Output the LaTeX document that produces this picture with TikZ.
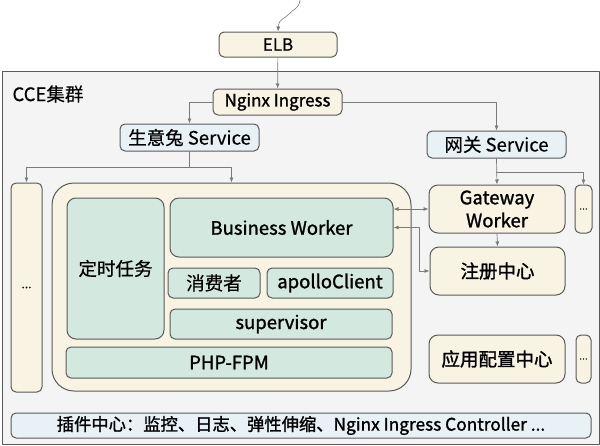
\documentclass[tikz,border=0pt]{standalone}
\usepackage{fontspec}
\setmainfont{Noto Sans CJK SC}[FakeBold=0.3]
\newfontfamily\medfont{Noto Sans CJK SC}[FakeBold=1.3]
\usetikzlibrary{arrows.meta}

\definecolor{cceBack}{HTML}{F4F4F4}
\definecolor{cceLine}{HTML}{5A5A5A}
\definecolor{cceLink}{HTML}{7A7A7A}
\definecolor{cceCream}{HTML}{F8F3E3}
\definecolor{cceGreen}{HTML}{D3E8DE}
\definecolor{cceBlue}{HTML}{E8F1F5}

\tikzset{
  ccebox/.style={draw=cceLine, line width=1pt, rounded corners=5pt, inner sep=0pt,
    align=center, font=\fontsize{18.5}{23}\selectfont},
  creambox/.style={ccebox, fill=cceCream},
  greenbox/.style={ccebox, fill=cceGreen},
  bluebox/.style={ccebox, fill=cceBlue},
  medtext/.style={font=\fontsize{18.5}{23}\selectfont\medfont},
  link/.style={draw=cceLink, line width=0.7pt, -{Latex[length=5pt,width=4pt]}},
  duallink/.style={link, {Latex[length=5pt,width=4pt]}-{Latex[length=5pt,width=4pt]}},
}

\begin{document}
\begin{tikzpicture}
% one unit = one pixel of the 600x445 layout, y grows downwards
\def\pxsz{1pt}
\begin{scope}[x=\pxsz, y=-\pxsz, line cap=round, line join=round]
  \useasboundingbox (0,0) rectangle (600,445);
  % Cluster frame
  \filldraw[fill=cceBack, draw=cceLine, line width=1pt] (2,71) rectangle (599,444);
  \node[anchor=west, font=\fontsize{18.5}{22}\selectfont] (ccetitle) at (9,94) {CCE集群};

  % Entry
  \node[creambox, minimum width=118pt, minimum height=25pt, font=\fontsize{17}{20}\selectfont] (elb) at (278,44.5) {ELB};
  \node[creambox, minimum width=129pt, minimum height=26pt, font=\fontsize{17}{20}\selectfont\medfont] (nginx) at (277.5,102) {Nginx Ingress};
  \coordinate (client) at (300,0);

  % Services
  \node[bluebox, minimum width=139pt, minimum height=27pt] (svcbiz) at (189.5,137.5) {生意兔 Service};
  \node[bluebox, minimum width=139pt, minimum height=27pt] (svcgw) at (496.5,144.5) {网关 Service};

  % Business pods
  \node[creambox, minimum width=31pt, minimum height=209pt, font=\fontsize{12}{14}\selectfont] (leftmore) at (26.5,287.5) {...};
  \node[creambox, rounded corners=22pt, minimum width=359pt, minimum height=208pt] (pod) at (231.5,287) {};
  \node[greenbox, rounded corners=9pt, minimum width=97pt, minimum height=141pt] (cron) at (115.5,268.5) {定时任务};
  \node[greenbox, medtext, rounded corners=9pt, minimum width=223pt, minimum height=59pt] (worker) at (281.5,227.5) {Business Worker};
  \node[greenbox, minimum width=92pt, minimum height=30pt] (consumer) at (214,283) {消费者};
  \node[greenbox, medtext, minimum width=126pt, minimum height=30pt] (apollo) at (330,283) {apolloClient};
  \node[greenbox, medtext, minimum width=222pt, minimum height=30pt] (supervisor) at (281,324) {supervisor};
  \node[greenbox, medtext, minimum width=326pt, minimum height=31pt] (phpfpm) at (229,362.5) {PHP-FPM};

  % Gateway side
  \node[creambox, medtext, rounded corners=9pt, minimum width=136pt, minimum height=48pt] (gateway) at (497,209) {Gateway\\Worker};
  \node[creambox, minimum width=17pt, minimum height=48pt, font=\fontsize{10}{12}\selectfont] (gwmore) at (583.5,209) {...};
  \node[creambox, medtext, rounded corners=9pt, minimum width=135pt, minimum height=48pt] (registry) at (497.5,271) {注册中心};
  \node[creambox, medtext, rounded corners=9pt, minimum width=136pt, minimum height=48pt] (config) at (497,359) {应用配置中心};
  \node[creambox, minimum width=15pt, minimum height=48pt, font=\fontsize{10}{12}\selectfont] (confmore) at (583.5,359) {...};

  % Plugins
  \node[bluebox, minimum width=580pt, minimum height=25pt, font=\fontsize{17.3}{20}\selectfont\medfont] (plugins) at (301,425.5) {插件中心：监控、日志、弹性伸缩、Nginx Ingress Controller ...};

  % Connectors
  \draw[link, line width=0.6pt] (client) .. controls (299,9) and (293,9) .. (289,14) .. controls (285,19) and (279,18) .. (elb.north);
  \draw[link] (elb) -- (nginx);
  \draw[link] (nginx.west) -| (svcbiz.north);
  \draw[link] (nginx.east) -| (svcgw.north);
  \coordinate (bizsplit) at (189.5,167);
  \draw[draw=cceLink, line width=0.7pt] (svcbiz.south) -- (bizsplit);
  \draw[link] (bizsplit) -| (leftmore.north);
  \draw[link] (bizsplit) -| (pod.north);
  \coordinate (gwsplit) at (496.5,172);
  \draw[link] (svcgw.south) -- (gateway.north);
  \draw[link] (gwsplit) -| (gwmore.north);
  \draw[duallink] (worker.east |- gateway.west) -- (gateway.west);
  \coordinate (regbend) at (419,227.5);
  \draw[duallink] (worker.east) -- (regbend) |- (registry.west);
  \draw[link] (gateway.south) -- (registry.north);
\end{scope}
\end{tikzpicture}
\end{document}
